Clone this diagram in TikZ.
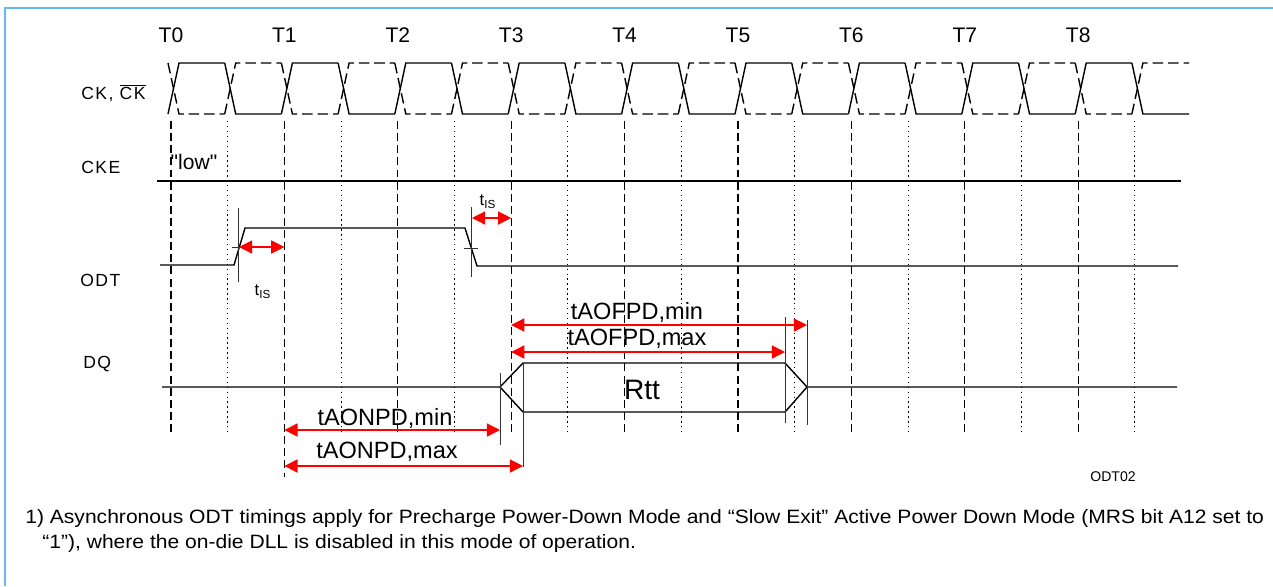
\documentclass[tikz,border=0pt]{standalone}
\usepackage{fontspec}
\setmainfont{Liberation Sans}
\newfontfamily\sigfont[LetterSpace=8]{Liberation Sans}
\newfontfamily\rawfont{Liberation Sans}
\newfontfamily\notefont[FakeStretch=1.09]{Liberation Sans}
\usepackage{tikz}
\usetikzlibrary{arrows.meta}
\definecolor{frameblue}{RGB}{100,185,245}
\definecolor{tred}{RGB}{255,0,0}
\tikzset{
  frameline/.style={frameblue, line width=0.9pt},
  wave/.style={line width=0.8pt},
  ckbar/.style={line width=0.8pt, dash pattern=on 6pt off 2.8pt},
  tgrid/.style={line width=0.6pt, dash pattern=on 4.5pt off 2.4pt},
  hgrid/.style={line width=0.6pt, dash pattern=on 0.8pt off 2pt},
  marker/.style={line width=0.5pt, black!80},
  timing/.style={tred, line width=0.7pt,
    {Triangle[length=7.5pt,width=7.5pt]}-{Triangle[length=7.5pt,width=7.5pt]}},
  clklabel/.style={font=\fontsize{12}{14}\selectfont},
  signame/.style={font=\sigfont\fontsize{10}{12}\selectfont, anchor=west, inner sep=0pt},
  timelbl/.style={font=\fontsize{13.4}{15}\selectfont, inner sep=0pt},
  tislbl/.style={font=\fontsize{9.5}{11}\selectfont, inner sep=0pt},
  note/.style={font=\notefont\fontsize{11}{13}\selectfont, anchor=base west, inner sep=0pt}
}

\begin{document}
\begin{tikzpicture}[x=0.02cm, y=-0.02cm]
  \useasboundingbox (0,0) rectangle (1273,586);
  % Frame
  \draw[frameline] (5,586) -- (5,8) -- (1273,8);

  % Clock edges
  \foreach \k in {0,...,8}
    \node[clklabel] (T\k) at (171+113.4*\k, 35) {T\k};

  % Signal names
  \node[signame] (ck) at (81,93) {CK, $\overline{\hbox{CK}}$};
  \node[signame] (cke) at (81,167) {CKE};
  \node[signame] (odt) at (80,280) {ODT};
  \node[signame] (dq) at (83,364) {DQ};

  % Grid
  \foreach \i in {0,2,...,16} {
    \pgfmathsetmacro\yend{\i==2 ? 477 : 432}
    \coordinate (g\i) at (171+56.7*\i, 121);
    \draw[tgrid] (g\i) -- ++(0,\yend-121);
  }
  \foreach \i in {1,3,...,17} {
    \coordinate (g\i) at (171+56.7*\i, 121);
    \draw[hgrid] (g\i) -- ++(0,311);
  }

  % CK and CK#
  \foreach \i in {0,...,17} {
    \pgfmathsetmacro\gx{171+56.7*\i}
    \pgfmathsetmacro\ya{isodd(\i) ? 63 : 114}
    \pgfmathsetmacro\yb{177-\ya}
    \pgfmathsetmacro\xe{\i==17 ? 1189 : \gx+53.7}
    \draw[wave] (\gx-3,\ya) -- (\gx+8,\yb) -- (\xe,\yb);
    \draw[ckbar] (\gx-3,\yb) -- (\gx+8,\ya) -- (\xe,\ya);
  }

  % CKE
  \draw[wave] (157,181) -- (1181,181);
  \node[inner sep=0pt, font=\rawfont\fontsize{12}{14}\selectfont] (low) at (194,162) {"low"};

  % ODT
  \draw[wave] (160,265) -- (234,265) -- (245,228) -- (465,228) -- (477,266) -- (1178,266);
  \draw[marker] (238,208) -- (238,282);
  \draw[marker] (232,247) -- (245,247);
  \draw[marker] (471,207) -- (471,277);
  \draw[marker] (464,248) -- (478,248);
  \coordinate (odton) at (239,247);
  \coordinate (odtoff) at (472,218);
  \draw[timing] (odton) -- (odton -| g2);
  \draw[timing] (odtoff) -- (odtoff -| g6);
  \node[tislbl] (tis1) at (263,292) {t\textsubscript{IS}};
  \node[tislbl] (tis2) at (488,202) {t\textsubscript{IS}};

  % DQ
  \draw[wave] (162,387) -- (500,387) -- (523,363) -- (785,363) -- (807,387) -- (1177,387);
  \draw[wave] (500,387) -- (523,412) -- (785,412) -- (807,387);
  \node[font=\fontsize{16}{18}\selectfont] (rtt) at (642,390) {Rtt};
  \draw[marker] (500,373) -- (500,445);
  \draw[marker] (523,363) -- (523,467);
  \draw[marker] (785,317) -- (785,423);
  \draw[marker] (807,320) -- (807,425);
  \coordinate (aofmin) at (807,325);
  \coordinate (aofmax) at (785,352);
  \coordinate (aonmin) at (500,430);
  \coordinate (aonmax) at (523,466);
  \draw[timing] (aofmin -| g6) -- (aofmin);
  \draw[timing] (aofmax -| g6) -- (aofmax);
  \draw[timing] (aonmin -| g2) -- (aonmin);
  \draw[timing] (aonmax -| g2) -- (aonmax);
  \node[timelbl] (aofminlbl) at (637,312) {tAOFPD,min};
  \node[timelbl] (aofmaxlbl) at (637,339) {tAOFPD,max};
  \node[timelbl] (aonminlbl) at (385,418) {tAONPD,min};
  \node[timelbl] (aonmaxlbl) at (387,452) {tAONPD,max};

  % Figure id and note
  \node[font=\fontsize{8}{10}\selectfont] (figid) at (1113,477) {ODT02};
  \node[note] (note1) at (25,523) {1) Asynchronous ODT timings apply for Precharge Power-Down Mode and “Slow Exit” Active Power Down Mode (MRS bit A12 set to};
  \node[note] (note2) at (42,548) {“1”), where the on-die DLL is disabled in this mode of operation.};
\end{tikzpicture}
\end{document}
